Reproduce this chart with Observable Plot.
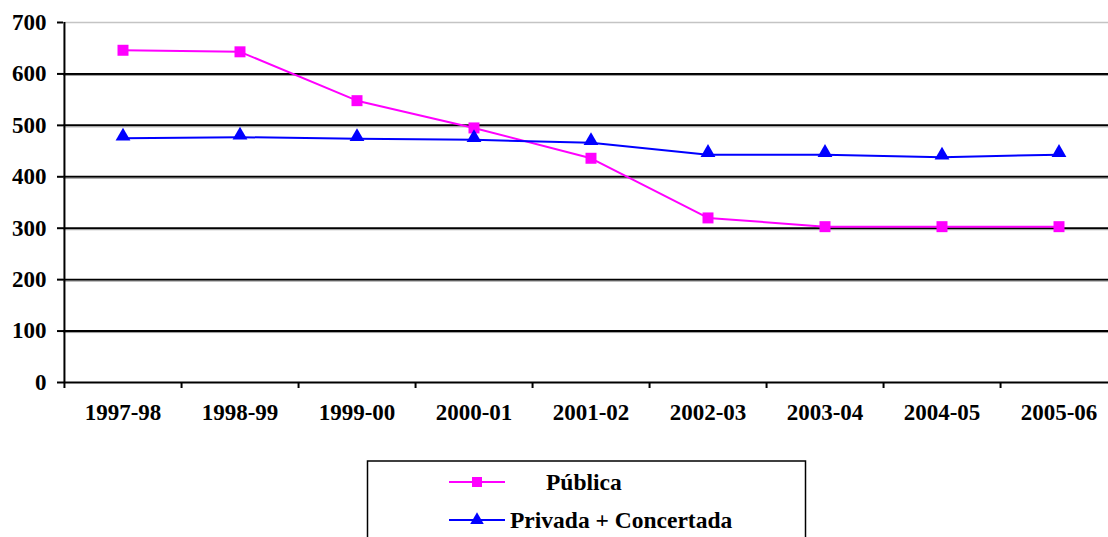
<!DOCTYPE html>
<html><head><meta charset="utf-8">
<script src="https://cdn.jsdelivr.net/npm/d3@7"></script>
<script src="https://cdn.jsdelivr.net/npm/@observablehq/plot@0.6"></script>
<style>
html,body{margin:0;padding:0;background:#fff;overflow:hidden;}
#wrap{position:relative;width:1108px;height:537px;}
#legend{position:absolute;left:0;top:440px;}
svg text{font-family:'Liberation Serif','DejaVu Serif',serif !important;font-weight:bold;}
</style></head><body>
<div id="wrap"><div id="chart"></div><svg id="legend" width="1108" height="97"></svg></div>
<script>
const years = ["1997-98","1998-99","1999-00","2000-01","2001-02","2002-03","2003-04","2004-05","2005-06"];
const publica = [646, 643, 548, 495, 436, 320, 303, 303, 303];
const privada = [475, 477, 474, 472, 466, 443, 443, 438, 443];
const yTicks = [0,100,200,300,400,500,600,700];
const seriesNames = ["Pública","Privada + Concertada"];
const seriesColors = ["#ff00ff","#0000ff"];
const seriesSymbols = ["square","triangle"];

const font = "'Liberation Serif','DejaVu Serif',serif";
const pub = years.map((yr,i)=>({year:yr, value:publica[i], series:seriesNames[0]}));
const pri = years.map((yr,i)=>({year:yr, value:privada[i], series:seriesNames[1]}));

const left = 63, right = 1117;
const bw = (right-left)/years.length;

const chart = Plot.plot({
  width: 1108, height: 440,
  marginLeft: left, marginRight: 1108-right, marginTop: 22, marginBottom: 58,
  style: {fontFamily: font, fontWeight: "bold", fontSize: "23px", color: "#000", background: "transparent", overflow: "visible"},
  x: {type: "band", domain: years, padding: 0, label: null},
  y: {domain: [0,700], label: null},
  marks: [
    Plot.ruleY(yTicks.filter(v=>v>0 && v<700), {stroke: "#000", strokeWidth: 2}),
    Plot.ruleY(yTicks.filter(v=>v>0 && v<700), {stroke: "#9a9a9a", strokeWidth: 1, dy: 1.5}),
    Plot.ruleY([700], {stroke: "#c4c4c4", strokeWidth: 1.5}),
    Plot.ruleY([0], {stroke: "#000", strokeWidth: 2}),
    Plot.ruleX([years[0]], {dx: -bw/2, y1: 700, y2: 0, insetBottom: -6, stroke: "#000", strokeWidth: 2}),
    Plot.ruleX(years, {dx: bw/2, y1: 0, y2: 0, insetBottom: -6, stroke: "#000", strokeWidth: 2}),
    Plot.axisY({ticks: yTicks, tickSize: 6, tickPadding: 11, strokeWidth: 2, fontSize: 23, tickFormat: d=>String(d)}),
    Plot.axisX({tickSize: 0, tickPadding: 21, fontSize: 23}),
    Plot.line(pub, {x: "year", y: "value", stroke: seriesColors[0], strokeWidth: 2}),
    Plot.line(pri, {x: "year", y: "value", stroke: seriesColors[1], strokeWidth: 2}),
    Plot.dot(pub, {x: "year", y: "value", symbol: seriesSymbols[0], r: 6.2, fill: seriesColors[0], stroke: null}),
    Plot.dot(pri, {x: "year", y: "value", symbol: seriesSymbols[1], r: 5.5, fill: seriesColors[1], stroke: null, dy: -2})
  ]
});
document.getElementById("chart").appendChild(chart);

// legend
const lg = d3.select("#legend");
lg.append("rect").attr("x",367.5).attr("y",21).attr("width",438).attr("height",120)
  .attr("fill","#fff").attr("stroke","#000").attr("stroke-width",1.5);
const items = [
  {name: seriesNames[0], color: seriesColors[0], sym: d3.symbolSquare, size: 100, y: 42, tx: 546},
  {name: seriesNames[1], color: seriesColors[1], sym: d3.symbolTriangle, size: 80, y: 80, tx: 510}
];
items.forEach(it=>{
  lg.append("line").attr("x1",449).attr("x2",505).attr("y1",it.y).attr("y2",it.y)
    .attr("stroke",it.color).attr("stroke-width",2);
  lg.append("path").attr("d", d3.symbol(it.sym, it.size)()).attr("transform",`translate(477,${it.y})`)
    .attr("fill",it.color);
  lg.append("text").attr("x",it.tx).attr("y",it.y).attr("dy","0.34em")
    .attr("font-size","23.5px").text(it.name);
});
</script>
</body></html>
